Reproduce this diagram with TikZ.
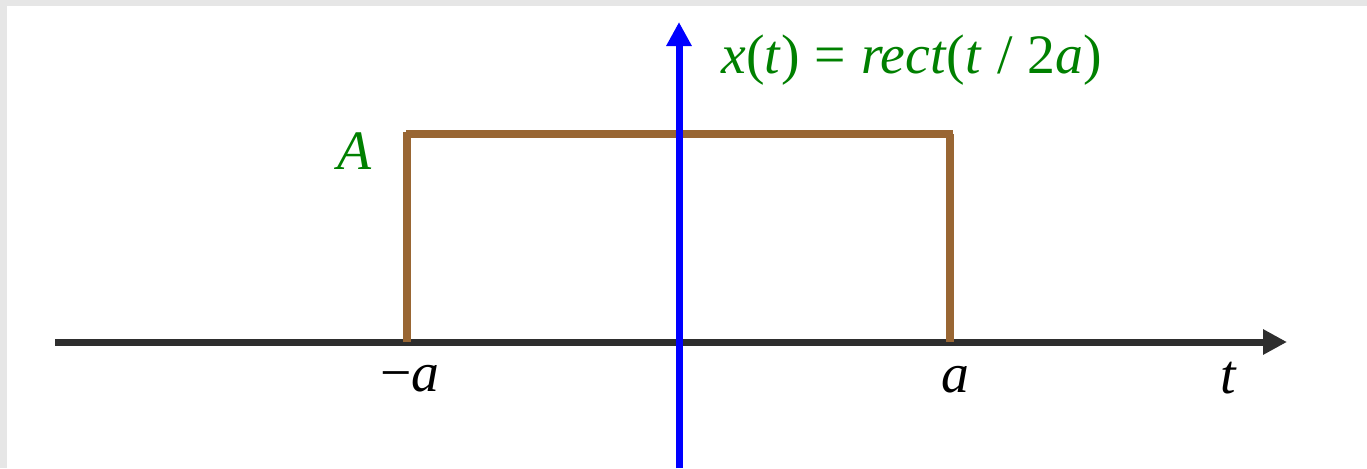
\documentclass[tikz,border=0pt]{standalone}
\usepackage{fontspec}
\setmainfont{Liberation Serif}
\usetikzlibrary{arrows.meta}
\definecolor{axisgray}{HTML}{2E2E2E}
\definecolor{pulsebrown}{HTML}{996633}
\definecolor{labgreen}{HTML}{008000}
\definecolor{framegray}{HTML}{E6E6E6}
\tikzset{
  axisline/.style={line width=0.14cm, -{Triangle[length=0.48cm,width=0.48cm]}},
  pulse/.style={pulsebrown, line width=0.15cm},
  lab/.style={font=\fontsize{31.7}{38}\selectfont, inner sep=0pt},
}
\newcommand{\gp}{\hspace{0.27em}}
\begin{document}
\begin{tikzpicture}[x=0.02cm, y=-0.02cm]
\useasboundingbox (0,0) rectangle (1367,468);
\fill[framegray] (0,0) rectangle (1367,468);
\fill[white] (7,6) rectangle (1367,468);
% coordinates
\coordinate (xs) at (55,342);
\coordinate (xe) at (1287,342);
\coordinate (ys) at (679,468);
\coordinate (ye) at (679,22);
\coordinate (bl) at (407,342);
\coordinate (tl) at (407,134);
\coordinate (tr) at (950,134);
\coordinate (br) at (950,342);
% x axis
\draw[axisline, axisgray] (xs) -- (xe);
% pulse
\draw[pulse] (bl) -- ([yshift=0.04cm]tl);
\draw[pulse] ([xshift=-0.02cm]tl) -- ([xshift=0.06cm]tr);
\draw[pulse] (tr) -- (br);
% y axis
\draw[axisline, blue] (ys) -- (ye);
% labels
\node[lab, labgreen, anchor=base west] (eq) at (721,73)
  {\textit{x}(\textit{t})\gp=\gp\textit{rect}(\textit{t}\gp/\gp2\textit{a})};
\node[lab, labgreen, anchor=base] (Alab) at (355,169) {\textit{A}};
\node[lab, anchor=base] (mal) at (410,391) {−\textit{a}};
\node[lab, anchor=base] (al) at (955,392) {\textit{a}};
\node[lab, anchor=base] (tl2) at (1229,393) {\textit{t}};
\end{tikzpicture}
\end{document}
